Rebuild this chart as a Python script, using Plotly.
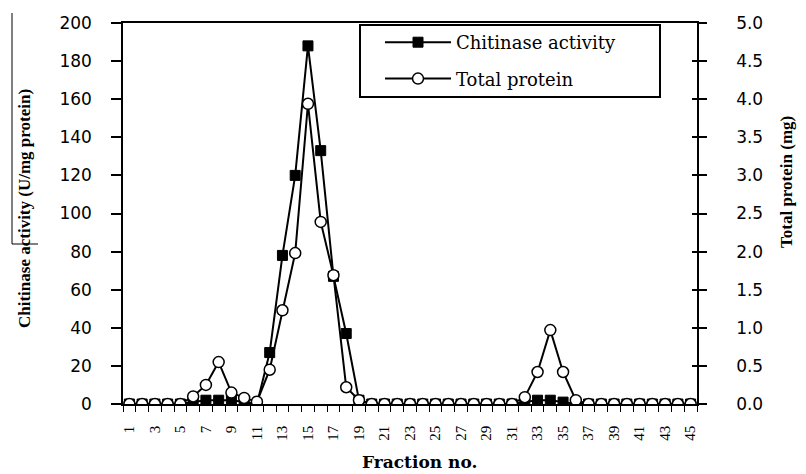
import plotly.graph_objects as go

# Fraction numbers collected from the column
fractions = list(range(1, 46))

# Chitinase activity (U/mg protein) per fraction
chitinase_activity = [
    0, 0, 0, 0, 0, 1, 2, 2, 2, 1,
    0, 27, 78, 120, 188, 133, 67, 37, 2, 0,
    0, 0, 0, 0, 0, 0, 0, 0, 0, 0,
    0, 1, 2, 2, 1, 0, 0, 0, 0, 0,
    0, 0, 0, 0, 0,
]

# Total protein (mg) per fraction
total_protein = [
    0, 0, 0, 0, 0, 0.1, 0.25, 0.55, 0.15, 0.08,
    0.03, 0.45, 1.23, 1.98, 3.94, 2.39, 1.69, 0.22, 0.05, 0,
    0, 0, 0, 0, 0, 0, 0, 0, 0, 0,
    0, 0.09, 0.42, 0.97, 0.42, 0.05, 0, 0, 0, 0,
    0, 0, 0, 0, 0,
]

# Axis tick values
x_label_vals = [f for f in fractions if f % 2 == 1]
left_ticks = [0, 20, 40, 60, 80, 100, 120, 140, 160, 180, 200]
right_ticks = [0, 0.5, 1.0, 1.5, 2.0, 2.5, 3.0, 3.5, 4.0, 4.5, 5.0]

SERIF = "Liberation Serif, Times New Roman, serif"
WIDE_SERIF = "DejaVu Serif, serif"
SANS = "DejaVu Sans, Arial, sans-serif"

fig = go.Figure()

fig.add_trace(go.Scatter(
    x=fractions, y=chitinase_activity, name="Chitinase activity",
    mode="lines+markers", yaxis="y", legendgroup="a",
    line=dict(color="black", width=2),
    marker=dict(symbol="square", size=10, color="black",
                line=dict(color="black", width=1)),
))
fig.add_trace(go.Scatter(
    x=fractions, y=total_protein, name="Total protein",
    mode="lines+markers", yaxis="y2", legendgroup="b",
    line=dict(color="black", width=2),
    marker=dict(symbol="circle", size=11, color="white",
                line=dict(color="black", width=1.5)),
))

# Plot area spans 123..697 px horizontally, 23..404 px vertically
L, R, T, B = 123, 697, 23, 404
def px_x(v):
    return (v - L) / (R - L)
def px_y(v):
    return (B - v) / (B - T)

fig.update_layout(
    width=806, height=474,
    margin=dict(l=L, r=806 - R, t=T, b=474 - B, autoexpand=False),
    plot_bgcolor="white", paper_bgcolor="white",
    xaxis=dict(
        range=[0.5, 45.5], tickmode="array", tickvals=x_label_vals,
        ticktext=[str(v) for v in x_label_vals], tickangle=-90,
        ticks="", showgrid=False, zeroline=False,
        showline=True, linecolor="black", linewidth=1.5, mirror=True,
        tickfont=dict(family=SERIF, size=15, color="black"),
        ticklabelstandoff=14,
        minor=dict(tick0=0.5, dtick=1, ticks="outside", ticklen=6,
                   tickwidth=1.2, tickcolor="black", showgrid=False),
    ),
    yaxis=dict(
        range=[0, 200], tickmode="array", tickvals=left_ticks,
        ticks="outside", ticklen=10, tickwidth=1.5, tickcolor="black",
        showline=True, linecolor="black", linewidth=1.5,
        showgrid=False, zeroline=False,
        tickfont=dict(family=SANS, size=17, color="black"),
        ticklabelstandoff=16,
    ),
    yaxis2=dict(
        range=[0, 5], overlaying="y", side="right", tickmode="array",
        tickvals=right_ticks, tickformat=".1f",
        ticks="outside", ticklen=8, tickwidth=1.5, tickcolor="black",
        showline=True, linecolor="black", linewidth=1.5,
        showgrid=False, zeroline=False,
        tickfont=dict(family=SANS, size=17, color="black"),
        ticklabelstandoff=26,
    ),
    yaxis3=dict(
        range=[0, 5], overlaying="y", side="right", tickmode="array",
        tickvals=right_ticks, ticks="inside", ticklen=5, tickwidth=1.5,
        tickcolor="black", showticklabels=False, showline=False,
        showgrid=False, zeroline=False,
    ),
    legend=dict(
        x=px_x(360), y=px_y(24), xanchor="left", yanchor="top",
        bgcolor="rgba(0,0,0,0)", borderwidth=0,
        font=dict(family=WIDE_SERIF, size=18, color="black"),
        tracegroupgap=10, indentation=20, itemwidth=66,
    ),
    showlegend=True,
)

# Invisible trace to attach the inner right-axis ticks
fig.add_trace(go.Scatter(x=[None], y=[None], yaxis="y3", showlegend=False,
                         hoverinfo="skip"))

# Legend frame
fig.add_shape(type="rect", xref="paper", yref="paper",
              x0=px_x(360), x1=px_x(660), y0=px_y(97), y1=px_y(25),
              line=dict(color="black", width=2), fillcolor="white",
              layer="above")

annotations = [
    dict(text="<b>Fraction no.</b>", x=px_x(419), y=px_y(462),
         font=dict(family=WIDE_SERIF, size=17, color="black")),
    dict(text="<b>Chitinase activity (U/mg protein)</b>", x=px_x(25),
         y=px_y(208), textangle=-90,
         font=dict(family=SERIF, size=17, color="black")),
    dict(text="<b>Total protein (mg)</b>", x=px_x(786), y=px_y(182),
         textangle=-90, font=dict(family=SERIF, size=17, color="black")),
]
for a in annotations:
    fig.add_annotation(xref="paper", yref="paper", showarrow=False,
                       xanchor="center", yanchor="middle", **a)

# Thin frame remnants along the left edge
fig.add_shape(type="line", xref="paper", yref="paper",
              x0=px_x(12), x1=px_x(12), y0=px_y(13), y1=px_y(244),
              line=dict(color="black", width=1))
fig.add_shape(type="line", xref="paper", yref="paper",
              x0=px_x(12), x1=px_x(38), y0=px_y(244), y1=px_y(244),
              line=dict(color="black", width=1))

fig.write_html("out.html")
